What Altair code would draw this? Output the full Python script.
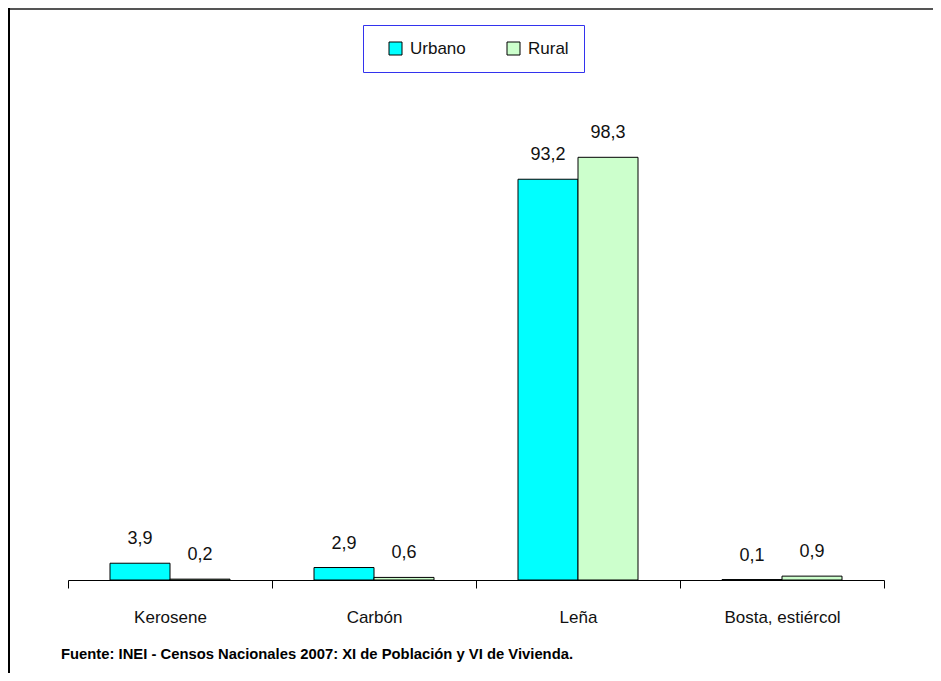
import altair as alt
import pandas as pd

categories = ["Kerosene", "Carbón", "Leña", "Bosta, estiércol"]
series = ["Urbano", "Rural"]
urbano = [3.9, 2.9, 93.2, 0.1]
rural = [0.2, 0.6, 98.3, 0.9]
colors = ["#00FFFF", "#CCFFCC"]
footnote = "Fuente: INEI - Censos Nacionales 2007: XI de Población y VI de Vivienda."

rows = []
for c, u, r in zip(categories, urbano, rural):
    rows.append({"cat": c, "serie": "Urbano", "val": u})
    rows.append({"cat": c, "serie": "Rural", "val": r})
df = pd.DataFrame(rows)
df["lbl"] = df["val"].map(lambda v: f"{v:.1f}".replace(".", ","))

W, H = 816, 430
PL, PT, PR, PB = 60, 142, 49, 93

x = alt.X("cat:N", sort=categories, title=None,
          scale=alt.Scale(paddingInner=0, paddingOuter=0),
          axis=alt.Axis(labelAngle=0, tickBand="extent", tickSize=8, labelPadding=21,
                        domainColor="black", tickColor="black", labelColor="#111",
                        labelFont="Liberation Sans", labelFontSize=17, grid=False))
xo = alt.XOffset("serie:N", sort=series,
                 scale=alt.Scale(paddingInner=0, paddingOuter=0.7))
y = alt.Y("val:Q", axis=None, scale=alt.Scale(domain=[0, 100], nice=False, clamp=False))

bars = alt.Chart(df).mark_bar(stroke="black", strokeWidth=1).encode(
    x=x, xOffset=xo, y=y,
    fill=alt.Fill("serie:N", sort=series,
                  scale=alt.Scale(domain=series, range=colors),
                  legend=alt.Legend(title=None, orient="none", legendX=295, legendY=-125,
                                    direction="horizontal", symbolType="square",
                                    symbolSize=169, symbolStrokeColor="black",
                                    symbolStrokeWidth=1, labelFontSize=17,
                                    labelFont="Liberation Sans", labelColor="#111",
                                    strokeColor="#3333EE", padding=15,
                                    symbolOffset=9, columnPadding=30, labelOffset=6)),
)

labels = alt.Chart(df).mark_text(baseline="bottom", dy=-15, fontSize=18,
                                 font="Liberation Sans", color="#111").encode(
    x=x, xOffset=xo, y=y, text="lbl:N"
)

foot = alt.Chart(pd.DataFrame({"t": [footnote]})).mark_text(
    align="left", baseline="middle", font="Liberation Sans", fontWeight="bold",
    fontSize=14.8, color="black"
).encode(x=alt.value(-7), y=alt.value(505), text="t:N")

top_line = alt.Chart(pd.DataFrame({"a": [0]})).mark_rule(color="#555555", strokeWidth=2).encode(
    x=alt.value(-PL), x2=alt.value(W + PR), y=alt.value(-PT + 1)
)
left_line = alt.Chart(pd.DataFrame({"a": [0]})).mark_rule(color="black", strokeWidth=2).encode(
    x=alt.value(-PL + 1), y=alt.value(-PT), y2=alt.value(H + PB)
)

chart = alt.layer(bars, labels, foot, top_line, left_line).properties(
    width=W, height=H,
    padding={"left": PL, "top": PT, "right": PR, "bottom": PB},
    autosize=alt.AutoSizeParams(type="none"),
).configure(background="white").configure_view(strokeOpacity=0, strokeWidth=0)

chart.save("out.html", embed_options={"renderer": "svg", "actions": False})
